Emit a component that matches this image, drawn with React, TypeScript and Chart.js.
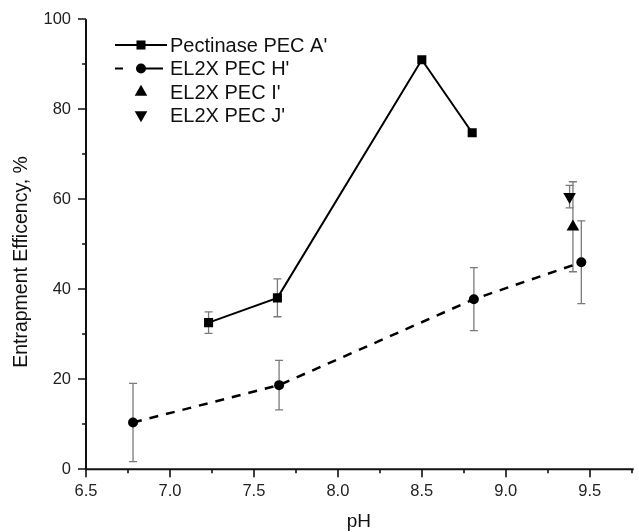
import React, { useEffect, useRef } from 'react';
import { Chart, registerables } from 'chart.js';

Chart.register(...registerables);

const FONT = "'Liberation Sans', Arial, Helvetica, sans-serif";

// ---- data ----
const seriesNames = ["Pectinase PEC A'", "EL2X PEC H'", "EL2X PEC I'", "EL2X PEC J'"];

const phA = [7.23, 7.64, 8.5, 8.8];
const effA = [32.6, 38.1, 91.0, 74.8];
const errA = [2.4, 4.2, 0, 0];

const phH = [6.78, 7.65, 8.81, 9.45];
const effH = [10.4, 18.7, 37.8, 46.0];
const errH = [8.7, 5.5, 7.0, 9.2];

const phI = [9.4];
const effI = [53.9];
const errI = [10.0];

const phJ = [9.38];
const effJ = [60.6];
const errJ = [2.5];

const xAxisTitle = 'pH';
const yAxisTitle = 'Entrapment Efficency, %';

const X_MIN = 6.5;
const X_MAX = 9.75;
const Y_MIN = 0;
const Y_MAX = 100;

const toPoints = (xs: number[], ys: number[]) => xs.map((x, i) => ({ x, y: ys[i] }));

const isMajorX = (v: number) => Math.abs(v * 2 - Math.round(v * 2)) < 1e-6;

const errorBarPlugin = {
  id: 'errorBars',
  beforeDatasetsDraw(chart: any) {
    const { ctx } = chart;
    const xs = chart.scales.x;
    const ys = chart.scales.y;
    ctx.save();
    ctx.strokeStyle = '#7a7a7a';
    ctx.lineWidth = 1.3;
    chart.data.datasets.forEach((ds: any) => {
      const errs: number[] = ds.errors || [];
      ds.data.forEach((p: any, i: number) => {
        const e = errs[i];
        if (!e) return;
        const px = xs.getPixelForValue(p.x);
        const top = ys.getPixelForValue(p.y + e);
        const bot = ys.getPixelForValue(p.y - e);
        ctx.beginPath();
        ctx.moveTo(px, top);
        ctx.lineTo(px, bot);
        ctx.moveTo(px - 4, top);
        ctx.lineTo(px + 4, top);
        ctx.moveTo(px - 4, bot);
        ctx.lineTo(px + 4, bot);
        ctx.stroke();
      });
    });
    ctx.restore();
  },
};

function drawMarker(ctx: CanvasRenderingContext2D, style: string, r: number, rot: number, x: number, y: number) {
  ctx.beginPath();
  if (style === 'rect') {
    const s = Math.SQRT1_2 * r;
    ctx.rect(x - s, y - s, 2 * s, 2 * s);
  } else if (style === 'circle') {
    ctx.arc(x, y, r, 0, Math.PI * 2);
  } else if (style === 'triangle') {
    let rad = (rot * Math.PI) / 180;
    ctx.moveTo(x + Math.sin(rad) * r, y - Math.cos(rad) * r);
    rad += (2 * Math.PI) / 3;
    ctx.lineTo(x + Math.sin(rad) * r, y - Math.cos(rad) * r);
    rad += (2 * Math.PI) / 3;
    ctx.lineTo(x + Math.sin(rad) * r, y - Math.cos(rad) * r);
    ctx.closePath();
  }
  ctx.fill();
}

const axesPlugin = {
  id: 'axesDraw',
  afterDraw(chart: any) {
    const { ctx, chartArea } = chart;
    const xs = chart.scales.x;
    const ys = chart.scales.y;
    const { left, right, top, bottom } = chartArea;
    ctx.save();
    ctx.strokeStyle = '#111';
    ctx.lineWidth = 2;
    ctx.beginPath();
    ctx.moveTo(left, top);
    ctx.lineTo(left, bottom);
    ctx.lineTo(right + 2, bottom);
    ctx.stroke();
    ctx.lineWidth = 1.6;
    ctx.beginPath();
    for (let v = X_MIN; v <= X_MAX + 1e-9; v += 0.25) {
      const px = Math.round(xs.getPixelForValue(v));
      const len = isMajorX(v) ? 8 : 4;
      ctx.moveTo(px, bottom);
      ctx.lineTo(px, bottom + len);
    }
    for (let v = Y_MIN; v <= Y_MAX + 1e-9; v += 10) {
      const py = Math.round(ys.getPixelForValue(v));
      const len = Math.round(v) % 20 === 0 ? 8 : 4;
      ctx.moveTo(left, py);
      ctx.lineTo(left - len, py);
    }
    ctx.stroke();

    // axis titles
    ctx.fillStyle = '#111';
    ctx.font = `19px ${FONT}`;
    ctx.textAlign = 'center';
    ctx.textBaseline = 'middle';
    ctx.fillText(xAxisTitle, (left + right) / 2, 522);
    ctx.save();
    ctx.translate(22, 262);
    ctx.rotate(-Math.PI / 2);
    ctx.font = `19.5px ${FONT}`;
    ctx.fillText(yAxisTitle, 0, 0);
    ctx.restore();

    // legend
    const rows = [45, 68.5, 92, 115];
    const lx0 = 115;
    const lx1 = 167;
    const mx = 141;
    const tx = 170;
    chart.data.datasets.forEach((ds: any, i: number) => {
      const y = rows[i];
      ctx.save();
      ctx.strokeStyle = '#000';
      ctx.fillStyle = '#000';
      if (ds.showLine) {
        ctx.lineWidth = 2;
        ctx.beginPath();
        if (ds.borderDash && ds.borderDash.length) {
          ctx.moveTo(lx0, y);
          ctx.lineTo(lx0 + 8, y);
          ctx.moveTo(mx + 4, y);
          ctx.lineTo(lx1 - 4, y);
        } else {
          ctx.moveTo(lx0, y);
          ctx.lineTo(lx1, y);
        }
        ctx.stroke();
      }
      drawMarker(ctx, ds.pointStyle, ds.pointRadius, ds.pointRotation || 0, mx, y);
      ctx.fillStyle = '#111';
      ctx.font = `20px ${FONT}`;
      ctx.textAlign = 'left';
      ctx.textBaseline = 'middle';
      ctx.fillText(seriesNames[i], tx, y + 1);
      ctx.restore();
    });
    ctx.restore();
  },
};

export default function App() {
  const ref = useRef<HTMLCanvasElement | null>(null);

  useEffect(() => {
    document.body.style.margin = '0';
    const canvas = ref.current;
    if (!canvas) return;
    const chart = new Chart(canvas, {
      type: 'scatter',
      data: {
        datasets: [
          {
            label: seriesNames[0],
            data: toPoints(phA, effA),
            errors: errA,
            showLine: true,
            borderColor: '#000',
            borderWidth: 2,
            backgroundColor: '#000',
            pointStyle: 'rect',
            pointRadius: 6.4,
            pointBorderWidth: 0,
            pointBackgroundColor: '#000',
          } as any,
          {
            label: seriesNames[1],
            data: toPoints(phH, effH),
            errors: errH,
            showLine: true,
            borderColor: '#000',
            borderWidth: 2.5,
            borderDash: [9, 8],
            backgroundColor: '#000',
            pointStyle: 'circle',
            pointRadius: 5,
            pointBorderWidth: 0,
            pointBackgroundColor: '#000',
          } as any,
          {
            label: seriesNames[2],
            data: toPoints(phI, effI),
            errors: errI,
            showLine: false,
            backgroundColor: '#000',
            borderColor: '#000',
            pointStyle: 'triangle',
            pointRadius: 7.3,
            pointBorderWidth: 0,
            pointBackgroundColor: '#000',
          } as any,
          {
            label: seriesNames[3],
            data: toPoints(phJ, effJ),
            errors: errJ,
            showLine: false,
            backgroundColor: '#000',
            borderColor: '#000',
            pointStyle: 'triangle',
            pointRotation: 180,
            pointRadius: 7.3,
            pointBorderWidth: 0,
            pointBackgroundColor: '#000',
          } as any,
        ],
      },
      options: {
        responsive: false,
        animation: false,
        layout: { padding: { top: 19.3, right: 0, left: 0, bottom: 0 } },
        plugins: {
          legend: { display: false },
          tooltip: { enabled: false },
          title: { display: false },
        },
        scales: {
          x: {
            type: 'linear',
            min: X_MIN,
            max: X_MAX,
            border: { display: false },
            grid: {
              display: true,
              drawOnChartArea: false,
              drawTicks: true,
              tickLength: 8,
              color: 'rgba(0,0,0,0)',
            },
            ticks: {
              stepSize: 0.25,
              autoSkip: false,
              maxRotation: 0,
              padding: 4,
              color: '#222',
              font: { family: FONT, size: 16.5 },
              callback: (v: any) => (isMajorX(Number(v)) ? Number(v).toFixed(1) : ''),
            },
            afterFit: (scale: any) => {
              scale.height = 532 - 469.3;
              scale.paddingLeft = 0;
              scale.paddingRight = 0;
            },
          },
          y: {
            type: 'linear',
            min: Y_MIN,
            max: Y_MAX,
            border: { display: false },
            grid: {
              display: true,
              drawOnChartArea: false,
              drawTicks: true,
              tickLength: 8,
              color: 'rgba(0,0,0,0)',
            },
            ticks: {
              stepSize: 20,
              padding: 7,
              color: '#222',
              font: { family: FONT, size: 16.5 },
            },
            afterFit: (scale: any) => {
              scale.width = 86;
            },
          },
        },
      } as any,
      plugins: [errorBarPlugin, axesPlugin],
    });
    return () => chart.destroy();
  }, []);

  return (
    <div style={{ width: 639, height: 532, background: '#fff' }}>
      <canvas ref={ref} width={639} height={532} style={{ display: 'block', width: 639, height: 532 }} />
    </div>
  );
}
